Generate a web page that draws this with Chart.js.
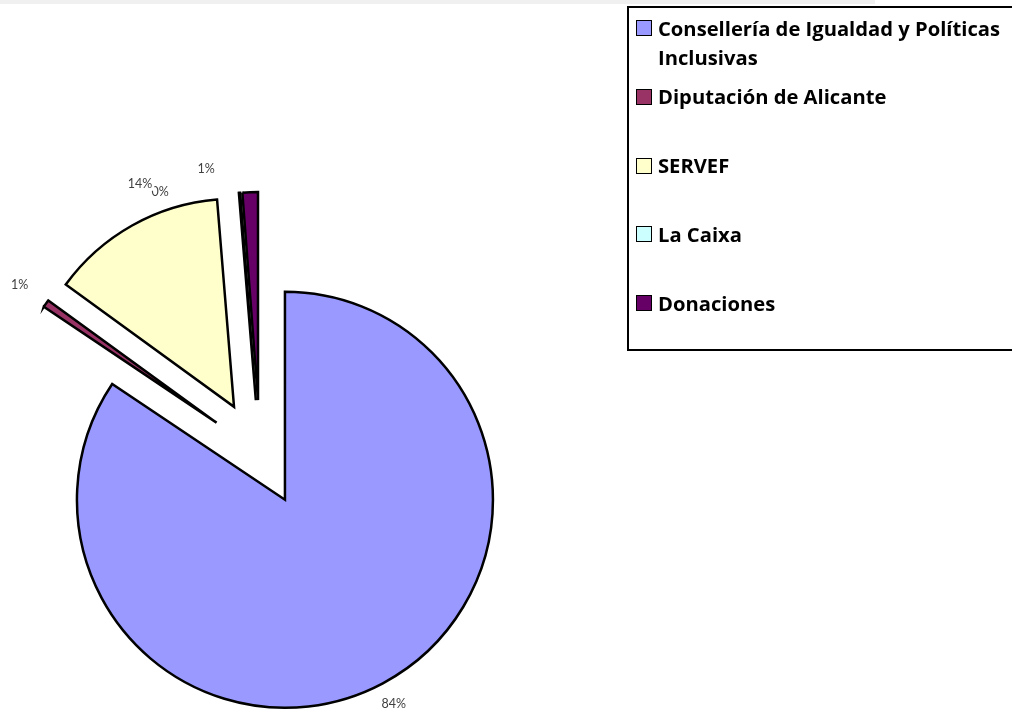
<!DOCTYPE html>
<html>
<head>
<meta charset="utf-8">
<script src="https://cdn.jsdelivr.net/npm/chart.js@4.4.1/dist/chart.umd.min.js"></script>
<style>
    html, body { margin: 0; padding: 0; background: #fff; }
    body { width: 1012px; height: 711px; position: relative; overflow: hidden; font-family: "Open Sans", Lato, sans-serif; }
    #topBar { position: absolute; left: 0; top: 0; width: 875px; height: 4px; background: #f0f0f0; }
    #pie { position: absolute; left: 0; top: 0; }
    #legend { position: absolute; left: 627px; top: 6px; width: 420px; height: 345px; border: 2px solid #000; box-sizing: border-box; }
    .item { position: absolute; left: 7px; display: flex; align-items: flex-start; }
    .swatch { flex: none; width: 16px; height: 16px; margin-top: 6.5px; border: 1.5px solid #000; box-sizing: border-box; }
    .text { margin-left: 6px; width: 356px; line-height: 29px; font-size: 20.2px; font-weight: 700; color: #000; white-space: normal; }
</style>
</head>
<body>
<div id="topBar"></div>
<canvas id="pie" width="1012" height="711"></canvas>
<div id="legend"></div>

<script>
const categories = [
    'Consellería de Igualdad y Políticas Inclusivas',
    'Diputación de Alicante',
    'SERVEF',
    'La Caixa',
    'Donaciones'
];
const shares = [84.4, 0.6, 13.7, 0.1, 1.2];
const sliceColors = ['#9999FF', '#993366', '#FFFFCC', '#CCFFFF', '#660066'];

// label placement tweaks (Excel moved some labels to avoid overlaps)
const labelTurn = [0, 0, 6.5, -20.2, -10.5];   // degrees
const labelGap = [23, 32, 34, 21, 29];          // px beyond the rim

const EXPLODE = 53;
const total = shares.reduce((a, b) => a + b, 0);

// every slice pulled out from the centre along its own mid angle
const explodePlugin = {
    id: 'explode',
    beforeDatasetsDraw(chart) {
        const area = chart.chartArea;
        const cx = (area.left + area.right) / 2;
        const cy = (area.top + area.bottom) / 2;
        chart.getDatasetMeta(0).data.forEach(arc => {
            const mid = (arc.startAngle + arc.endAngle) / 2;
            arc.x = cx + Math.cos(mid) * EXPLODE;
            arc.y = cy + Math.sin(mid) * EXPLODE;
        });
    }
};

const percentLabels = {
    id: 'percentLabels',
    afterDatasetsDraw(chart) {
        const ctx = chart.ctx;
        const arcs = chart.getDatasetMeta(0).data;
        ctx.save();
        ctx.font = '12.5px Lato, sans-serif';
        ctx.textAlign = 'center';
        ctx.textBaseline = 'middle';
        for (let i = arcs.length - 1; i >= 0; i--) {
            const arc = arcs[i];
            const a = (arc.startAngle + arc.endAngle) / 2 + labelTurn[i] * Math.PI / 180;
            const d = arc.outerRadius + labelGap[i];
            const x = arc.x + Math.cos(a) * d;
            const y = arc.y + Math.sin(a) * d;
            const text = Math.round(shares[i] / total * 100) + '%';
            const w = ctx.measureText(text).width;
            ctx.fillStyle = '#fff';
            ctx.fillRect(x - w / 2 - 2, y - 8, w + 4, 15);
            ctx.fillStyle = '#404040';
            ctx.fillText(text, x, y);
        }
        ctx.restore();
    }
};

new Chart(document.getElementById('pie'), {
    type: 'pie',
    data: {
        labels: categories,
        datasets: [{
            data: shares,
            backgroundColor: sliceColors,
            borderColor: '#000',
            borderWidth: 2.5,
            borderJoinStyle: 'miter'
        }]
    },
    options: {
        responsive: false,
        devicePixelRatio: 1,
        animation: false,
        events: [],
        radius: 208,
        layout: { padding: { left: 0, right: 492, top: 195, bottom: 0 } },
        plugins: {
            legend: { display: false },
            tooltip: { enabled: false }
        }
    },
    plugins: [explodePlugin, percentLabels]
});

const legendEl = document.getElementById('legend');
categories.forEach((name, i) => {
    const item = document.createElement('div');
    item.className = 'item';
    item.style.top = (5.5 + 68.75 * i) + 'px';
    const sw = document.createElement('div');
    sw.className = 'swatch';
    sw.style.background = sliceColors[i];
    const txt = document.createElement('div');
    txt.className = 'text';
    txt.textContent = name;
    item.appendChild(sw);
    item.appendChild(txt);
    legendEl.appendChild(item);
});
</script>
</body>
</html>
